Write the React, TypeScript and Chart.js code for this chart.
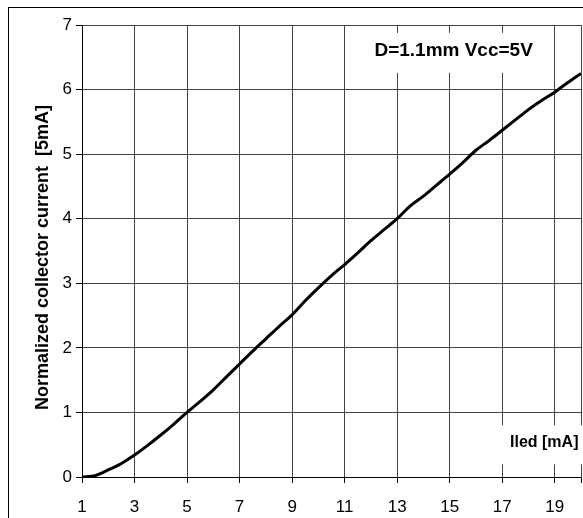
import React, { useEffect, useRef } from 'react';
import { Chart, registerables } from 'chart.js';

Chart.register(...registerables);

const xValues = [1, 1.5, 2, 2.5, 3, 3.5, 4, 4.5, 5, 5.5, 6, 6.5, 7, 7.5, 8, 8.5, 9, 9.5, 10, 10.5, 11, 11.5, 12, 12.5, 13, 13.5, 14, 14.5, 15, 15.5, 16, 16.5, 17, 17.5, 18, 18.5, 19, 19.5, 20];
const yValues = [0, 0.02, 0.11, 0.21, 0.34, 0.49, 0.65, 0.82, 1.0, 1.17, 1.35, 1.55, 1.75, 1.95, 2.14, 2.33, 2.51, 2.73, 2.93, 3.12, 3.29, 3.47, 3.66, 3.83, 4.0, 4.2, 4.35, 4.52, 4.69, 4.87, 5.06, 5.21, 5.37, 5.53, 5.69, 5.83, 5.96, 6.11, 6.25];
const xTicks = [1, 3, 5, 7, 9, 11, 13, 15, 17, 19, 20];
const yTicks = [0, 1, 2, 3, 4, 5, 6, 7];
const yTitle = 'Normalized collector current  [5mA]';
const yTitleAtValue = 3.4;
const noteText = 'D=1.1mm Vcc=5V';
const noteAt = { x: 15.15, y: 6.6 };
const xTitle = 'Iled [mA]';
const xTitleAt = { x: 18.6, y: 0.53 };

const FONT = '"Liberation Sans", Arial, sans-serif';
const NARROW = '"Liberation Sans Narrow", "Liberation Sans", Arial, sans-serif';

const labelsPlugin = {
  id: 'labelsPlugin',
  beforeDatasetsDraw(chart: any) {
    const { ctx, scales } = chart;
    const xs = scales.x;
    const ys = scales.y;
    const drawBox = (text: string, at: { x: number; y: number }, size: number, padX: number, h: number) => {
      ctx.save();
      ctx.font = `bold ${size}px ${FONT}`;
      const w = ctx.measureText(text).width;
      const cx = xs.getPixelForValue(at.x);
      const cy = ys.getPixelForValue(at.y);
      ctx.fillStyle = '#fff';
      ctx.fillRect(cx - w / 2 - padX, cy - h / 2 + 2, w + padX * 2, h);
      ctx.fillStyle = '#000';
      ctx.textAlign = 'center';
      ctx.textBaseline = 'middle';
      ctx.fillText(text, cx, cy);
      ctx.restore();
    };
    drawBox(noteText, noteAt, 19, 10, 40);
    drawBox(xTitle, xTitleAt, 16, 8, 39);
  },
  afterDraw(chart: any) {
    const { ctx, scales } = chart;
    const ys = scales.y;
    ctx.save();
    ctx.translate(ys.left + 43, ys.getPixelForValue(yTitleAtValue));
    ctx.rotate(-Math.PI / 2);
    ctx.font = `bold 18px ${FONT}`;
    ctx.fillStyle = '#000';
    ctx.textAlign = 'center';
    ctx.textBaseline = 'middle';
    ctx.fillText(yTitle, 0, 0);
    ctx.restore();
  },
};

export default function App() {
  const ref = useRef<HTMLCanvasElement>(null);
  useEffect(() => {
    const chart = new Chart(ref.current as HTMLCanvasElement, {
      type: 'line',
      data: {
        datasets: [
          {
            data: xValues.map((x, i) => ({ x, y: yValues[i] })),
            borderColor: '#000',
            borderWidth: 3,
            pointRadius: 0,
            cubicInterpolationMode: 'monotone',
            fill: false,
          },
        ],
      },
      options: {
        responsive: false,
        animation: false,
        layout: { padding: { left: 0, right: 2, top: 25, bottom: 0 } },
        plugins: { legend: { display: false }, tooltip: { enabled: false } },
        scales: {
          x: {
            type: 'linear',
            min: 1,
            max: 20,
            afterBuildTicks: (s: any) => {
              s.ticks = xTicks.map((v) => ({ value: v }));
            },
            afterFit: (s: any) => {
              s.height = 41;
              s.paddingLeft = 0;
              s.paddingRight = 0;
            },
            grid: { color: '#444', lineWidth: 1, tickLength: 6, tickColor: '#000' },
            border: { color: '#000', width: 1 },
            ticks: {
              color: '#000',
              font: { family: NARROW, size: 17 },
              padding: 14,
              maxRotation: 0,
              autoSkip: false,
              callback: (v: any) => (v === 20 ? '' : String(v)),
            },
          },
          y: {
            type: 'linear',
            min: 0,
            max: 7,
            afterBuildTicks: (s: any) => {
              s.ticks = yTicks.map((v) => ({ value: v }));
            },
            afterFit: (s: any) => {
              s.width = 82;
            },
            grid: { color: '#444', lineWidth: 1, tickLength: 6, tickColor: '#000' },
            border: { color: '#000', width: 1 },
            ticks: {
              color: '#000',
              font: { family: NARROW, size: 17 },
              padding: 4,
            },
          },
        },
      },
      plugins: [labelsPlugin],
    } as any);
    return () => chart.destroy();
  }, []);

  return (
    <div style={{ position: 'fixed', left: 0, top: 0, width: 583, height: 518, overflow: 'hidden', background: '#fff' }}>
      <div
        style={{
          position: 'absolute',
          left: 8,
          top: 7,
          width: 800,
          height: 800,
          border: '1px solid #000',
          pointerEvents: 'none',
        }}
      />
      <canvas ref={ref} width={583} height={518} style={{ position: 'absolute', left: 0, top: 0, display: 'block' }} />
    </div>
  );
}
